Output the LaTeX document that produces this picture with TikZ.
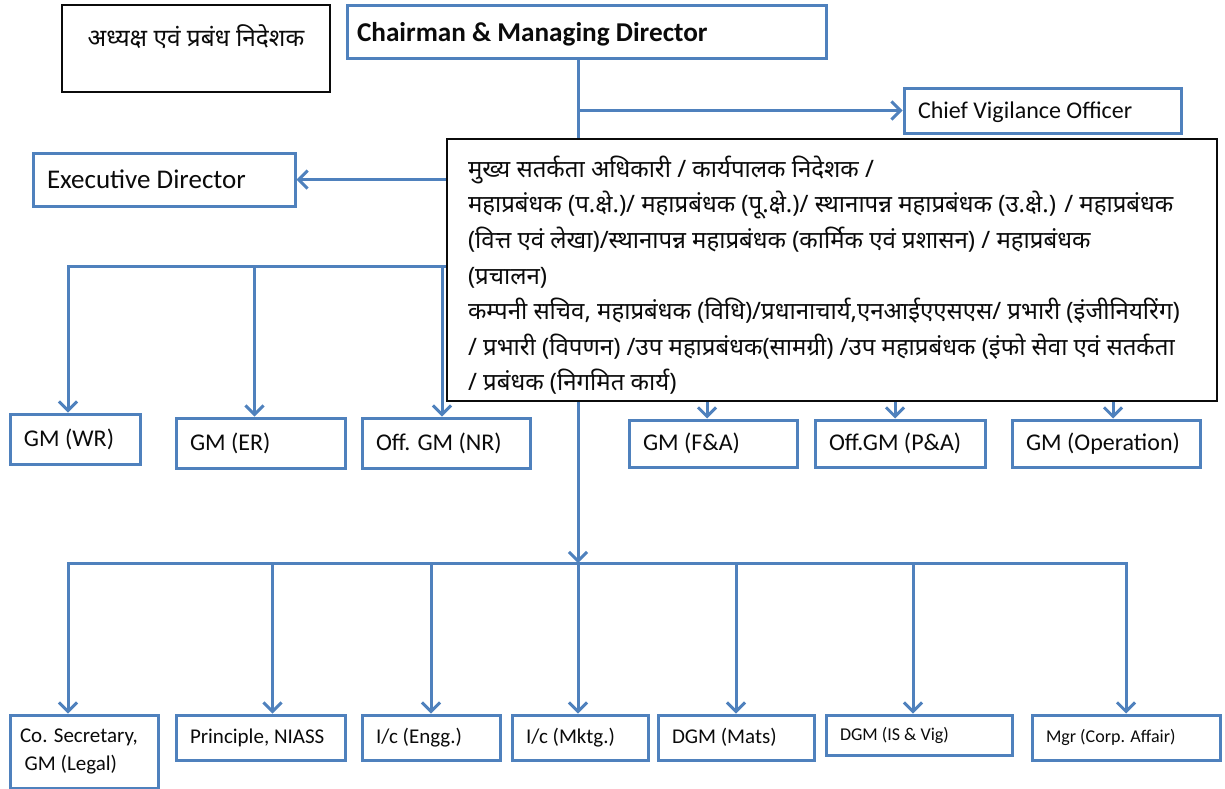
\documentclass[tikz,border=0pt]{standalone}
\usepackage{fontspec}
\setmainfont{Carlito}
\newfontfamily\hindi[Script=Devanagari]{Noto Sans}
\usepackage{tikz}
\usetikzlibrary{arrows.meta,calc,positioning,backgrounds}
\definecolor{azulcaja}{HTML}{4F81BD}
\definecolor{tinta}{HTML}{0B0B0B}
\tikzset{
  caja/.style={draw=azulcaja,fill=white,line width=1.5pt,inner xsep=7pt,inner ysep=0pt,align=flush left,font=\fontsize{12}{14}\selectfont,text=tinta},
  cajachica/.style={caja,font=\fontsize{10.5}{14}\selectfont},
  cajamini/.style={caja,font=\fontsize{9}{11}\selectfont},
  cajanegra/.style={draw=tinta,fill=white,line width=0.8pt,inner sep=0pt,text=tinta},
  linea/.style={draw=azulcaja,line width=1.5pt},
  flecha/.style={linea,-{Straight Barb[length=4.5pt,width=9pt,line width=1.5pt]}},
}
\begin{document}
\begin{tikzpicture}[x=0.5pt,y=-0.5pt]
\useasboundingbox (0,0) rectangle (1225,788);
% top row
\node[cajanegra,minimum width=134pt,minimum height=43.5pt,text depth=13pt,font=\hindi\fontsize{12.2}{14}\selectfont] (hin) at (196,48.5) {अध्यक्ष एवं प्रबंध निदेशक};
\node[caja,inner xsep=5pt,text width=229.5pt,minimum height=26.5pt,text depth=0pt,font=\bfseries\fontsize{13.6}{16}\selectfont] (cmd) at (586.5,31.5) {Chairman \& Managing Director};
\node[caja,text width=124.5pt,minimum height=22.5pt,text depth=0pt] (cvo) at (1042.5,110.5) {Chief Vigilance Officer};
\node[caja,text width=117pt,minimum height=26.5pt,font=\fontsize{13.5}{16}\selectfont] (ed) at (164,179.5) {Executive Director};
\node[cajanegra,line width=1pt,anchor=north west,text width=364pt,minimum height=131pt,inner xsep=10.5pt,align=flush left,font=\hindi\fontsize{12}{17.8}\selectfont] (hbox) at (446,138) {%
\rule{0pt}{16pt}मुख्य सतर्कता अधिकारी / कार्यपालक निदेशक /\\
महाप्रबंधक (प.क्षे.)/ महाप्रबंधक (पू.क्षे.)/ स्थानापन्न महाप्रबंधक (उ.क्षे.) / महाप्रबंधक\\
(वित्त एवं लेखा)/स्थानापन्न महाप्रबंधक (कार्मिक एवं प्रशासन) / महाप्रबंधक\\
(प्रचालन)\\
कम्पनी सचिव, महाप्रबंधक (विधि)/प्रधानाचार्य,एनआईएएसएस/ प्रभारी (इंजीनियरिंग)\\
/ प्रभारी (विपणन) /उप महाप्रबंधक(सामग्री) /उप महाप्रबंधक (इंफो सेवा एवं सतर्कता\\
/ प्रबंधक (निगमित कार्य)};
% middle row
\node[caja,text width=51pt,minimum height=25pt] (wr) at (75,439) {GM (WR)};
\node[caja,text width=70.5pt,minimum height=25pt] (er) at (260.5,443) {GM (ER)};
\node[caja,text width=70pt,minimum height=25pt] (nr) at (446,443) {Off. GM (NR)};
\node[caja,text width=70pt,minimum height=23.5pt] (fa) at (713,443.5) {GM (F\&A)};
\node[caja,text width=71pt,minimum height=23.5pt] (pa) at (900,443.5) {Off.GM (P\&A)};
\node[caja,text width=80pt,minimum height=23.5pt] (ops) at (1106,443.5) {GM (Operation)};
% bottom row
\node[cajachica,inner xsep=5pt,text width=64pt,minimum height=36.5pt] (cosec) at (84,751.5) {Co. Secretary,\\ \ GM (Legal)};
\node[cajachica,text width=70.5pt,minimum height=22.5pt] (prin) at (260.5,737.5) {Principle, NIASS};
\node[cajachica,text width=55pt,minimum height=22.5pt] (engg) at (431,737.5) {I/c (Engg.)};
\node[cajachica,text width=54pt,minimum height=22.5pt] (mktg) at (580,737.5) {I/c (Mktg.)};
\node[cajachica,text width=64pt,minimum height=22.5pt] (mats) at (736,737.5) {DGM (Mats)};
\node[cajamini,text width=79pt,minimum height=20pt] (isv) at (919,735) {DGM (IS \& Vig)};
\node[cajamini,text width=80pt,minimum height=22.5pt] (corp) at (1126,737.5) {Mgr (Corp. Affair)};
% connectors
\coordinate (tronco) at (578,0);
\coordinate (busmedio) at (0,266);
\coordinate (busbajo) at (0,563);
\begin{scope}[on background layer]
\draw[flecha] (tronco |- cmd.south) -- (tronco |- busbajo);
\draw[flecha] (tronco |- cvo.west) -- (cvo.west);
\draw[flecha] (tronco |- ed.east) -- (ed.east);
\foreach \n/\d in {wr/-3.5,er/-3,nr/-2,fa/-3,pa/-2.5,ops/3.5}{
  \path ([xshift=\d pt]\n.north) coordinate (top\n);
  \draw[flecha] (top\n |- busmedio) -- (top\n);
}
\draw[linea,line cap=rect] (topwr |- busmedio) -- (topops |- busmedio);
\foreach \n/\d in {cosec/-8,prin/6,engg/0,mktg/-1,mats/0,isv/-3,corp/0}{
  \path ([xshift=\d pt]\n.north) coordinate (top\n);
  \draw[flecha] (top\n |- busbajo) -- (top\n);
}
\draw[linea,line cap=rect] (topcosec |- busbajo) -- (topcorp |- busbajo);
\end{scope}
\end{tikzpicture}
\end{document}
